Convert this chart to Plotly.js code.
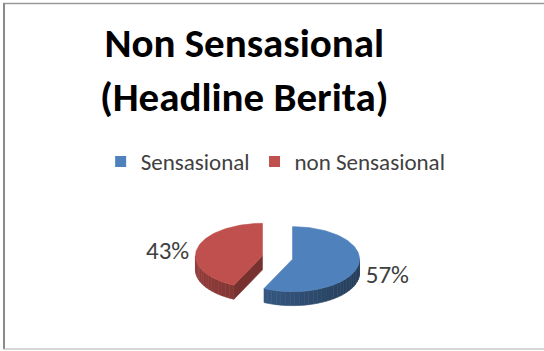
<!DOCTYPE html>
<html>
<head>
<meta charset="utf-8">
<script src="https://cdn.plot.ly/plotly-3.0.1.min.js"></script>
<style>html,body{margin:0;padding:0;background:#fff;}#chart{width:544px;height:351px;}</style>
</head>
<body>
<div id="chart"></div>
<script>
// ---- data ----
var categories = ["Sensasional", "non Sensasional"];
var values = [57, 43];
var chartTitle = "Non Sensasional<br>(Headline Berita)";

// ---- styling / geometry (pixel-like axes) ----
var topColors = [[79,129,189],[192,80,77]];
var CX = 277.5, CY = 257.5, RX = 67, RY = 32.5, DEPTH = 14, EXPLODE = 0.23, LABEL_R = 1.45;
var FONT = "Calibri, Carlito, Lato, sans-serif";

function rgb(c,f){return 'rgb('+Math.round(c[0]*f)+','+Math.round(c[1]*f)+','+Math.round(c[2]*f)+')';}
function deg(a){return a*Math.PI/180;}

var total = values.reduce(function(a,b){return a+b;},0);
var traces = [];
var start = 0;
var labelX = [], labelY = [], labelT = [];
var slices = [];
values.forEach(function(v,i){
  var sweep = v/total*360;
  var a0 = start, a1 = start+sweep, m = (a0+a1)/2;
  start = a1;
  var ox = CX + EXPLODE*RX*Math.sin(deg(m));
  var oy = CY - EXPLODE*RY*Math.cos(deg(m));
  slices.push({a0:a0,a1:a1,m:m,ox:ox,oy:oy,i:i});
  labelX.push(CX + (EXPLODE+LABEL_R)*RX*Math.sin(deg(m)));
  labelY.push(CY - (EXPLODE+LABEL_R)*RY*Math.cos(deg(m)) + DEPTH/2);
  labelT.push(Math.round(v/total*100)+'%');
});

function P(s,a,dz){return [s.ox + RX*Math.sin(deg(a)), s.oy - RY*Math.cos(deg(a)) + (dz||0)];}
function poly(pts,color){
  var xs = pts.map(function(p){return p[0];}), ys = pts.map(function(p){return p[1];});
  xs.push(xs[0]); ys.push(ys[0]);
  traces.push({type:'scatter',mode:'lines',x:xs,y:ys,fill:'toself',fillcolor:color,
    line:{color:color,width:0.6},hoverinfo:'skip',showlegend:false});
}

slices.forEach(function(s){
  var c = topColors[s.i];
  if (Math.sin(deg(s.a0)) < -0.05) {
    var e = P(s,s.a0);
    poly([[s.ox,s.oy],e,[e[0],e[1]+DEPTH],[s.ox,s.oy+DEPTH]], rgb(c,0.62));
  }
  if (Math.sin(deg(s.a1)) > 0.05) {
    var e2 = P(s,s.a1);
    poly([[s.ox,s.oy],e2,[e2[0],e2[1]+DEPTH],[s.ox,s.oy+DEPTH]], rgb(c,0.62));
  }
  var lo = Math.max(s.a0,90), hi = Math.min(s.a1,270);
  var step = 4;
  for (var a=lo; a<hi; a+=step){
    var b = Math.min(a+step,hi);
    var mid = (a+b)/2;
    var f = 0.62 - 0.14*Math.sin(deg(mid));
    var p1 = P(s,a), p2 = P(s,b);
    poly([p1,p2,[p2[0],p2[1]+DEPTH],[p1[0],p1[1]+DEPTH]], rgb(c,f));
  }
  var pts = [[s.ox,s.oy]];
  for (var a2=s.a0; a2<=s.a1+0.001; a2+=2){ pts.push(P(s,Math.min(a2,s.a1))); }
  pts.push(P(s,s.a1));
  poly(pts, rgb(c,1));
});

traces.push({type:'scatter',mode:'text',x:labelX,y:labelY,text:labelT,
  textfont:{family:FONT,size:25,color:'#404040'},textposition:'middle center',
  hoverinfo:'skip',showlegend:false});

categories.forEach(function(name,i){
  traces.push({type:'scatter',mode:'markers',x:[null],y:[null],name:name,
    marker:{symbol:'square',size:11,color:rgb(topColors[i],1)},showlegend:true});
});

var layout = {
  width:544, height:351,
  margin:{l:0,r:0,t:0,b:0},
  paper_bgcolor:'#ffffff', plot_bgcolor:'#ffffff',
  xaxis:{range:[0,544],visible:false,fixedrange:true},
  yaxis:{range:[351,0],visible:false,fixedrange:true},
  title:{text:chartTitle, x:0.449, xanchor:'center', y:0.837, yanchor:'top',
    font:{family:FONT,size:41,color:'#000000',weight:'bold'}},
  showlegend:true,
  legend:{orientation:'h', x:0.185, xanchor:'left', y:0.54, yanchor:'middle',
    font:{family:FONT,size:23,color:'#404040'}, itemwidth:30, bgcolor:'rgba(0,0,0,0)'},
  shapes:[
    {type:'line',xref:'x',yref:'y',x0:3,x1:544,y0:3.5,y1:3.5,line:{color:'#9a9a9a',width:1.5}},
    {type:'line',xref:'x',yref:'y',x0:4,x1:4,y0:3,y1:349,line:{color:'#8a8a8a',width:2}},
    {type:'line',xref:'x',yref:'y',x0:3,x1:544,y0:349,y1:349,line:{color:'#b0b0b0',width:1.2}}
  ]
};

Plotly.newPlot('chart', traces, layout, {displayModeBar:false, staticPlot:true});
</script>
</body>
</html>
